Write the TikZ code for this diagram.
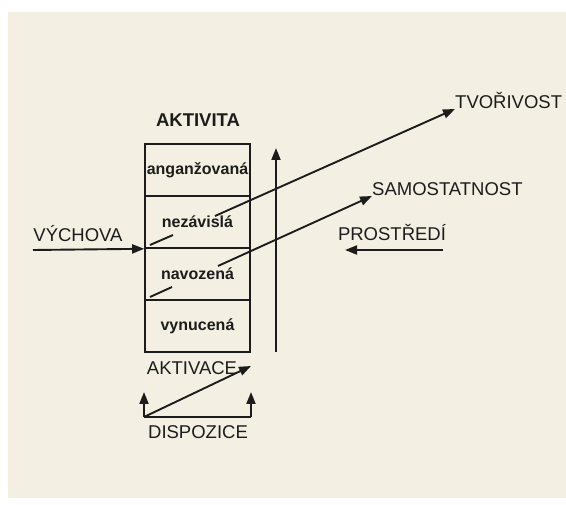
\documentclass[tikz,border=0pt]{standalone}
\usepackage{fontspec}
\setmainfont{Liberation Sans}
\usetikzlibrary{arrows.meta}
\definecolor{paper}{HTML}{F3F0E3}
\definecolor{ink}{HTML}{1C1C1C}
\tikzset{
  cell/.style={draw=ink, line width=1.6pt, minimum width=105pt, minimum height=52pt,
    inner sep=0pt, font=\fontsize{16}{18}\selectfont\bfseries, text=ink},
  lbl/.style={font=\fontsize{18.5}{20}\selectfont, text=ink, inner sep=0pt},
  arr/.style={draw=ink, line width=1.9pt, -{Triangle[length=12pt,width=9pt]}},
  ln/.style={draw=ink, line width=1.9pt}
}

\begin{document}
\begin{tikzpicture}[x=1pt,y=-1pt]
    \fill[white] (0,0) rectangle (566,505);
    \fill[paper] (8,12) rectangle (566,498);
    \useasboundingbox (0,0) rectangle (566,505);
    % the box
    \node[lbl, font=\fontsize{18.5}{20}\selectfont\bfseries] (aktivita) at (198,120) {AKTIVITA};
    \node[cell] (ang) at (197.5,170) {anganžovaná};
    \node[cell] (nez) at (197.5,222) {nezávislá};
    \node[cell] (nav) at (197.5,274) {navozená};
    \node[cell] (vyn) at (197.5,326) {vynucená};
    % vertical arrow
    \coordinate (vbot) at (276,352);
    \coordinate (vtop) at (276,148);
    \draw[arr] (vbot) -- (vtop);
    % sides
    \node[lbl] (vychova) at (78,234) {VÝCHOVA};
    \coordinate (vyst) at (33,250);
    \draw[arr] (vyst) -- (nez.south west);
    \node[lbl] (prostredi) at (392,233) {PROSTŘEDÍ};
    \coordinate (prst) at (443,250);
    \coordinate (prend) at (345,250);
    \draw[arr] (prst) -- (prend);
    % diagonals
    \node[lbl, anchor=south west] (tvor) at (455,109) {TVOŘIVOST};
    \node[lbl, anchor=south west] (samo) at (372,196) {SAMOSTATNOST};
    \coordinate (t1) at (150,245);
    \coordinate (t2) at (173,235);
    \coordinate (t3) at (215,216);
    \draw[ln] (t1) -- (t2);
    \draw[arr] (t3) -- (tvor.south west);
    \coordinate (s1) at (150,297);
    \coordinate (s2) at (172,287);
    \coordinate (s3) at (218,266);
    \draw[ln] (s1) -- (s2);
    \draw[arr] (s3) -- (samo.south west);
    % bottom
    \node[lbl] (aktivace) at (192,368) {AKTIVACE};
    \node[lbl] (dispozice) at (198,432) {DISPOZICE};
    \coordinate (dl) at (144,417);
    \coordinate (dr) at (251,417);
    \coordinate (dlt) at (144,392);
    \coordinate (drt) at (251,392);
    \coordinate (akt) at (251,366);
    \draw[ln] (dl) -- (dr);
    \draw[arr] (dl) -- (dlt);
    \draw[arr] (dr) -- (drt);
    \draw[arr] (dl) -- (akt);
\end{tikzpicture}
\end{document}
